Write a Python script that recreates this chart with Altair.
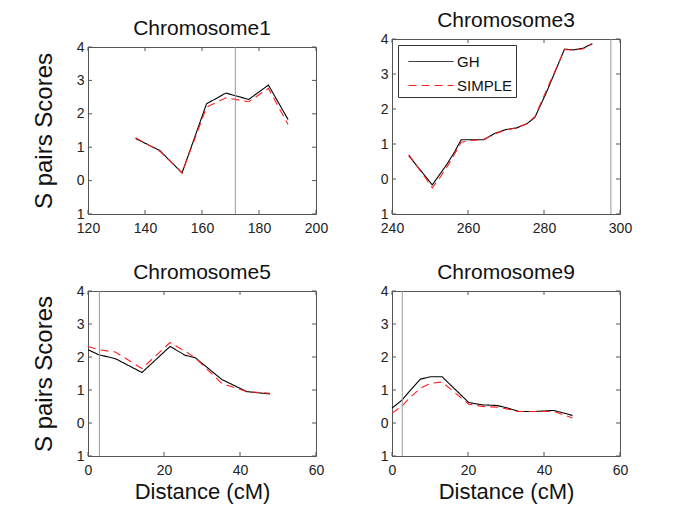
import altair as alt
import pandas as pd

# ---------------- data ----------------
c1_x = [136.7, 145.2, 153.0, 161.6, 168.4, 176.4, 183.3, 190.2]
c1_gh = [1.26, 0.90, 0.23, 2.30, 2.62, 2.43, 2.86, 1.83]
c1_simple = [1.28, 0.88, 0.23, 2.20, 2.48, 2.36, 2.76, 1.68]
c1_marker = 171.7

c3_x = [244.4, 246.0, 247.5, 249.0, 250.6, 252.5, 254.5, 256.5, 258.2, 261.0, 264.1,
        266.8, 269.9, 272.8, 275.5, 277.6, 280.7, 285.4, 287.8, 290.4, 292.7]
c3_gh = [0.67, 0.45, 0.25, 0.05, -0.17, 0.12, 0.43, 0.78, 1.12, 1.12, 1.12,
         1.29, 1.41, 1.46, 1.58, 1.76, 2.49, 3.71, 3.69, 3.74, 3.87]
c3_simple = [0.70, 0.45, 0.22, 0.00, -0.25, 0.02, 0.35, 0.72, 1.05, 1.10, 1.13,
             1.28, 1.40, 1.46, 1.58, 1.78, 2.55, 3.70, 3.68, 3.72, 3.86]
c3_marker = 297.6

c5_x = [0.0, 2.8, 7.2, 14.2, 21.6, 25.6, 28.2, 35.2, 41.8, 47.9]
c5_gh = [2.22, 2.07, 1.95, 1.53, 2.32, 2.05, 1.98, 1.32, 0.95, 0.88]
c5_simple = [2.32, 2.22, 2.15, 1.65, 2.44, 2.17, 1.98, 1.20, 0.95, 0.90]
c5_marker = 3.0

c9_x = [0.0, 2.7, 4.5, 7.5, 10.1, 13.2, 20.2, 23.7, 27.7, 30.5, 33.4, 37.8, 42.6, 47.5]
c9_gh = [0.45, 0.70, 0.95, 1.33, 1.40, 1.40, 0.62, 0.55, 0.53, 0.45, 0.35, 0.35, 0.38, 0.23]
c9_simple = [0.30, 0.52, 0.75, 1.05, 1.20, 1.24, 0.57, 0.50, 0.48, 0.42, 0.35, 0.35, 0.35, 0.15]
c9_marker = 2.7

series_names = ["GH", "SIMPLE"]
y_ticks = [-1, 0, 1, 2, 3, 4]

FONT = "Liberation Sans"
FRAME = "#555555"
W = 228


def panel(xs, gh, simple, marker, xdomain, xticks, title, ytitle, xtitle, legend, H):
    df = pd.DataFrame({
        "x": xs + xs,
        "y": gh + simple,
        "series": [series_names[0]] * len(xs) + [series_names[1]] * len(xs),
    })
    xscale = alt.Scale(domain=xdomain, nice=False, zero=False)
    yscale = alt.Scale(domain=[-1, 4], nice=False, zero=False)
    xaxis = alt.Axis(values=xticks, title=xtitle if xtitle else None, labelFlush=False,
                     labelOverlap=False, labelPadding=7, titleFontSize=22, titlePadding=4)
    yaxis = alt.Axis(values=y_ticks, title=ytitle if ytitle else None,
                     labelExpr="format(abs(datum.value), 'd')",
                     labelOverlap=False, labelFlush=False, titleFontSize=24, titlePadding=20)
    X = alt.X("x:Q", scale=xscale, axis=xaxis)
    Y = alt.Y("y:Q", scale=yscale, axis=yaxis)
    if legend:
        leg = alt.Legend(title=None, orient="top-left", offset=6, padding=3.5,
                         strokeColor="#333333", fillColor="white",
                         symbolType="M-1.8,0H1.8", symbolSize=625, symbolStrokeWidth=1,
                         symbolOffset=16.5,
                         labelFontSize=15, labelFont=FONT, labelColor="#111111",
                         labelOffset=13, rowPadding=3)
    else:
        leg = None
    lines = alt.Chart(df).mark_line(strokeWidth=1.1).encode(
        x=X, y=Y,
        color=alt.Color("series:N", scale=alt.Scale(domain=series_names, range=["#000000", "#ff2020"]),
                        legend=leg),
        strokeDash=alt.StrokeDash("series:N",
                                  scale=alt.Scale(domain=series_names, range=[[1, 0], [8, 5]]),
                                  legend=leg),
    )
    rule = alt.Chart(pd.DataFrame({"x": [marker]})).mark_rule(color="#999999", strokeWidth=1).encode(x=X)
    xt = pd.DataFrame({"x": xticks})
    yt = pd.DataFrame({"y": y_ticks})
    top_t = alt.Chart(xt).mark_rule(color=FRAME, strokeWidth=1).encode(
        x=X, y=alt.value(0), y2=alt.value(4))
    bot_t = alt.Chart(xt).mark_rule(color=FRAME, strokeWidth=1).encode(
        x=X, y=alt.value(H), y2=alt.value(H - 4))
    left_t = alt.Chart(yt).mark_rule(color=FRAME, strokeWidth=1).encode(
        y=Y, x=alt.value(0), x2=alt.value(4))
    right_t = alt.Chart(yt).mark_rule(color=FRAME, strokeWidth=1).encode(
        y=Y, x=alt.value(W), x2=alt.value(W - 4))
    return alt.layer(lines, top_t, bot_t, left_t, right_t, rule).properties(
        width=W, height=H,
        title=alt.TitleParams(title, fontSize=21, font=FONT, fontWeight="normal",
                              color="#111111", anchor="middle", frame="group", offset=1),
    )


p1 = panel(c1_x, c1_gh, c1_simple, c1_marker, [120, 200], [120, 140, 160, 180, 200],
           "Chromosome1", "S  pairs Scores", None, False, 167)
p3 = panel(c3_x, c3_gh, c3_simple, c3_marker, [240, 300], [240, 260, 280, 300],
           "Chromosome3", None, None, True, 175)
p5 = panel(c5_x, c5_gh, c5_simple, c5_marker, [0, 60], [0, 20, 40, 60],
           "Chromosome5", "S  pairs Scores", "Distance (cM)", False, 165)
p9 = panel(c9_x, c9_gh, c9_simple, c9_marker, [0, 60], [0, 20, 40, 60],
           "Chromosome9", None, "Distance (cM)", False, 165)

spacer = alt.Chart(pd.DataFrame({"s": [0]})).mark_point(opacity=0, size=1).encode(
    x=alt.X("s:Q", axis=None), y=alt.Y("s:Q", axis=None)
).properties(width=W, height=1, view=alt.ViewBackground(stroke="transparent"))

ind = dict(x="independent", y="independent", color="independent", strokeDash="independent")

cell1 = alt.vconcat(spacer, p1, spacing=7, bounds="flush").resolve_scale(**ind)

chart = alt.concat(cell1, p3, p5, p9, columns=2,
                   spacing={"row": 25, "column": 50}).resolve_scale(**ind).properties(
    padding={"left": 23, "top": 1, "right": 5, "bottom": 5}, background="white"
).configure_view(stroke=FRAME, strokeWidth=1).configure_axis(
    domain=False, ticks=False, grid=False, labelFont=FONT, labelFontSize=14,
    labelColor="#222222", labelPadding=4, titleFont=FONT, titleFontWeight="normal",
    titleColor="#111111"
)

chart.save("out.html", embed_options={"renderer": "svg", "actions": False})
